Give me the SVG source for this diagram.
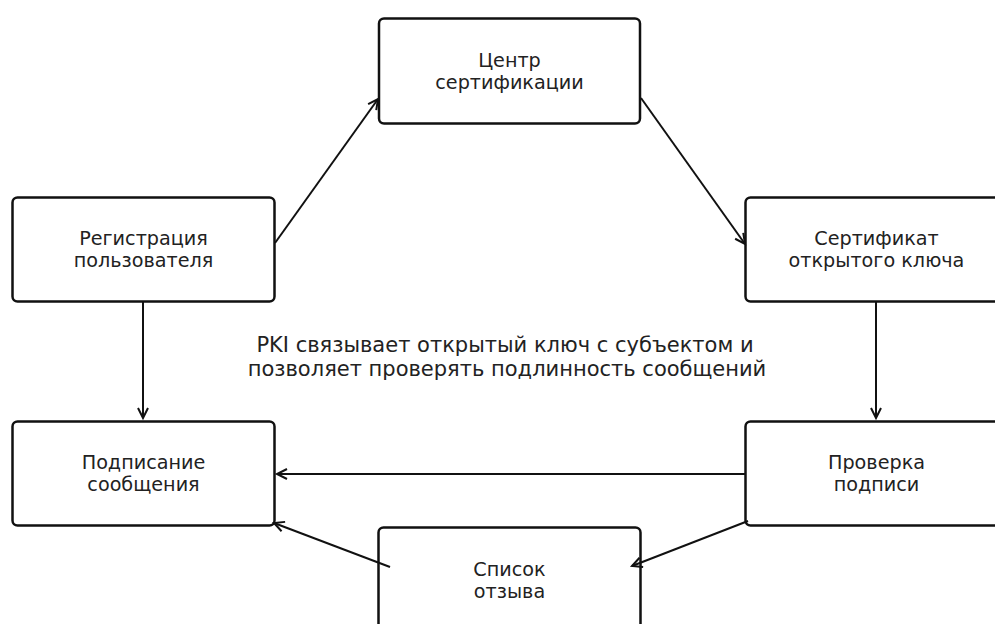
<svg xmlns="http://www.w3.org/2000/svg" width="995" height="624" viewBox="0 0 995 624">
<style>
.box{fill:#fff;stroke:#111;stroke-width:2.5}
.lbl{font-family:"DejaVu Sans",sans-serif;font-size:19.2px;fill:#222;text-anchor:middle}
.cap{font-family:"DejaVu Sans",sans-serif;font-size:21px;fill:#222;text-anchor:middle}
.edge{stroke:#111;stroke-width:2;fill:none;marker-end:url(#arr)}
</style>
<defs>
<marker id="arr" markerUnits="userSpaceOnUse" markerWidth="14" markerHeight="14" refX="11" refY="6" orient="auto">
<path d="M1,1 L11,6 L1,11" fill="none" stroke="#111" stroke-width="2"/>
</marker>
</defs>
<rect width="995" height="624" fill="#fff"/>
<g id="ca">
<rect class="box" x="379" y="18.5" width="261" height="105" rx="5"/>
<text class="lbl" x="509.5" y="66.5">Центр</text>
<text class="lbl" x="509.5" y="88.5">сертификации</text>
</g>
<g id="reg">
<rect class="box" x="12.5" y="197.5" width="262" height="104" rx="5"/>
<text class="lbl" x="143.5" y="244.5">Регистрация</text>
<text class="lbl" x="143.5" y="266.5">пользователя</text>
</g>
<g id="cert">
<rect class="box" x="745.5" y="197.5" width="262" height="104" rx="5"/>
<text class="lbl" x="876.5" y="244.5">Сертификат</text>
<text class="lbl" x="876.5" y="266.5">открытого ключа</text>
</g>
<g id="sign">
<rect class="box" x="12.5" y="421.5" width="262" height="104" rx="5"/>
<text class="lbl" x="143.5" y="468.5">Подписание</text>
<text class="lbl" x="143.5" y="490.5">сообщения</text>
</g>
<g id="verify">
<rect class="box" x="745.5" y="421.5" width="262" height="104" rx="5"/>
<text class="lbl" x="876.5" y="468.5">Проверка</text>
<text class="lbl" x="876.5" y="490.5">подписи</text>
</g>
<g id="crl">
<rect class="box" x="378.5" y="527.5" width="262" height="104" rx="5"/>
<text class="lbl" x="509.5" y="576">Список</text>
<text class="lbl" x="509.5" y="598">отзыва</text>
</g>
<g id="caption">
<text class="cap" x="505" y="352">PKI связывает открытый ключ с субъектом и</text>
<text class="cap" x="507" y="376">позволяет проверять подлинность сообщений</text>
</g>
<g id="connectors">
<line class="edge" x1="275" y1="243" x2="378" y2="99"/>
<line class="edge" x1="641" y1="98" x2="745" y2="244"/>
<line class="edge" x1="143" y1="302" x2="143" y2="418"/>
<line class="edge" x1="876" y1="302" x2="876" y2="418"/>
<line class="edge" x1="745" y1="474" x2="277" y2="474"/>
<line class="edge" x1="748" y1="521" x2="632" y2="566"/>
<line class="edge" x1="390" y1="567" x2="274" y2="523"/>
</g>
</svg>
